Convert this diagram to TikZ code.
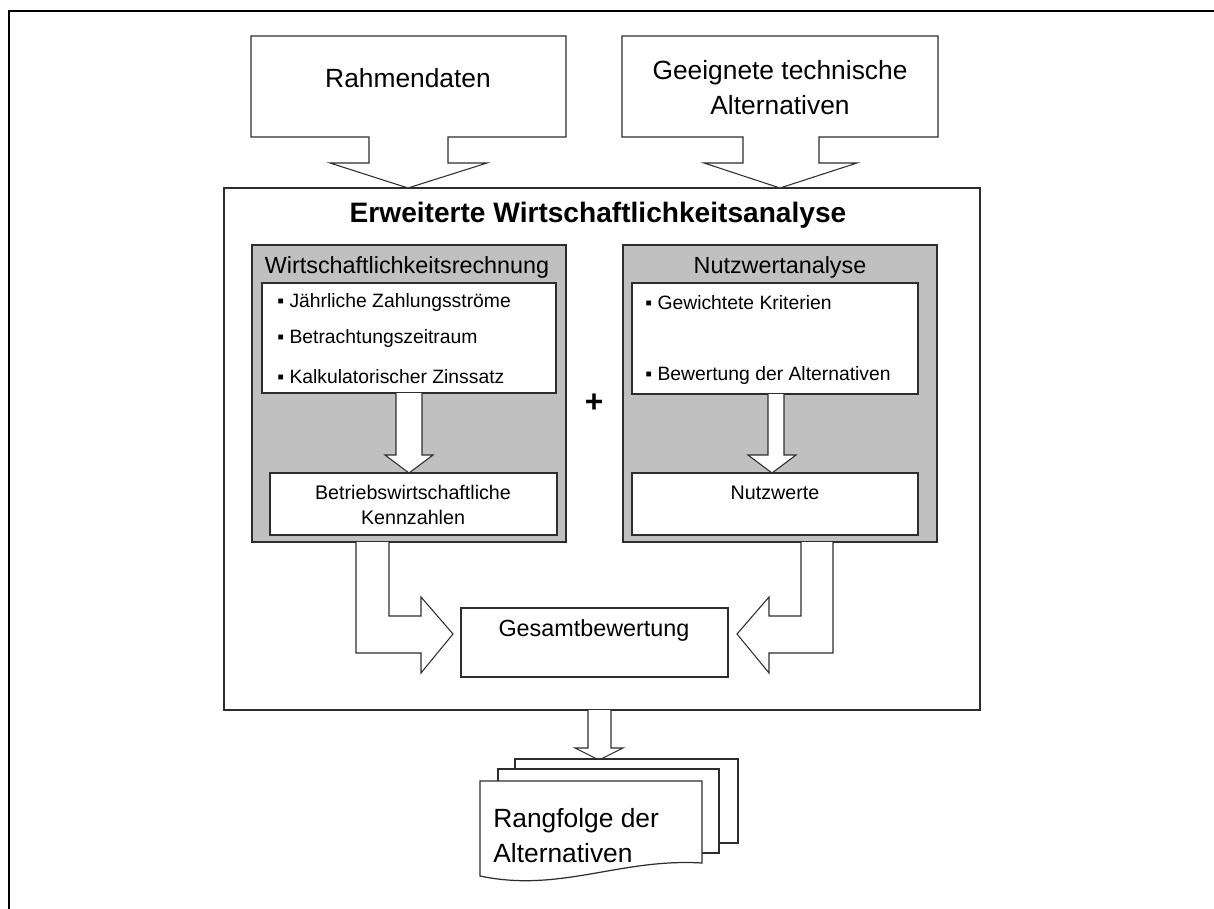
\documentclass[tikz,border=0pt]{standalone}
\usepackage{fontspec}
\setmainfont{Liberation Sans}
\definecolor{panelgray}{RGB}{192,192,192}
\definecolor{linegray}{RGB}{45,45,45}

\begin{document}
\begin{tikzpicture}[x=0.02cm, y=-0.02cm,
  box/.style={draw=linegray, line width=0.7pt, fill=white},
  panel/.style={draw=linegray, line width=0.9pt, fill=panelgray},
  blockarrow/.style={draw=linegray, line width=0.6pt, fill=white, line join=miter},
  bigtext/.style={font=\fontsize{15}{20}\selectfont, align=center, inner sep=0pt},
  midtext/.style={font=\fontsize{13.3}{16}\selectfont, align=center, inner sep=0pt},
  smalltext/.style={font=\fontsize{11.2}{14.2}\selectfont, align=center, inner sep=0pt},
  item/.style={font=\fontsize{11}{13}\selectfont, anchor=west, inner sep=0pt}]
  \useasboundingbox (0,0) rectangle (1214,909);
  % outer frame (cut off at right and bottom)
  \draw[line width=1.7pt] (9,909) -- (9,11) -- (1214,11);

  % main box
  \draw[box] (224,188) rectangle (980,710);
  \node[font=\fontsize{16}{18}\selectfont\bfseries, inner sep=0pt] (title) at (598,215) {Erweiterte Wirtschaftlichkeitsanalyse};

  % input callouts
  \filldraw[blockarrow] (251,36) -- (566,36) -- (566,137) -- (448,137) -- (448,163) -- (487,163)
    -- (408,188) -- (330,163) -- (369,163) -- (369,137) -- (251,137) -- cycle;
  \node[bigtext] (rahmen) at (408,78) {Rahmendaten};
  \filldraw[blockarrow] (622,36) -- (938,36) -- (938,137) -- (819,137) -- (819,163) -- (857,163)
    -- (780,188) -- (704,163) -- (743,163) -- (743,137) -- (622,137) -- cycle;
  \node[bigtext] (alternativen) at (780,88) {Geeignete technische\\Alternativen};

  % left panel
  \draw[panel] (252,245) rectangle (566,542);
  \node[midtext] (wirtschaft) at (407,267) {Wirtschaftlichkeitsrechnung};
  \draw[box] (262,283) rectangle (556,393);
  \node[item] (zahlung) at (277,303) {▪ Jährliche Zahlungsströme};
  \node[item] (zeitraum) at (277,339) {▪ Betrachtungszeitraum};
  \node[item] (zins) at (277,377) {▪ Kalkulatorischer Zinssatz};
  \filldraw[blockarrow] (396,393) -- (396,455) -- (385,455) -- (409,473) -- (433,455) -- (422,455) -- (422,393);
  \draw[box] (270,473) rectangle (557,535);
  \node[smalltext] (kennzahlen) at (413,505) {Betriebswirtschaftliche\\Kennzahlen};

  % right panel
  \draw[panel] (623,245) rectangle (937,542);
  \node[midtext] (nutzwert) at (780,267) {Nutzwertanalyse};
  \draw[box] (632,283) rectangle (918,394);
  \node[item] (kriterien) at (645,303) {▪ Gewichtete Kriterien};
  \node[item] (bewertung) at (645,376) {▪ Bewertung der Alternativen};
  \filldraw[blockarrow] (768,394) -- (768,455) -- (748,455) -- (772,473) -- (796,455) -- (784,455) -- (784,394);
  \draw[box] (632,473) rectangle (918,535);
  \node[smalltext] (nutzwerte) at (775,493) {Nutzwerte};

  \node[font=\fontsize{18}{18}\selectfont\bfseries, inner sep=0pt] (plus) at (594,403) {+};

  % overall rating
  \filldraw[blockarrow] (356,542) -- (356,653) -- (421,653) -- (421,673) -- (453,634) -- (421,597)
    -- (421,616) -- (389,616) -- (389,542);
  \filldraw[blockarrow] (833,542) -- (833,653) -- (769,653) -- (769,673) -- (737,634) -- (769,597)
    -- (769,616) -- (801,616) -- (801,542);
  \draw[box] (461,608) rectangle (728,677);
  \node[midtext] (gesamt) at (594,630) {Gesamtbewertung};

  % result documents
  \filldraw[blockarrow] (588,710) -- (588,748) -- (575,748) -- (599,760) -- (623,748) -- (611,748) -- (611,710);
  \draw[box] (515,759) rectangle (738,843);
  \draw[box] (498,769) rectangle (719,853);
  \draw[box] (480,781) -- (702,781) -- (702,863)
    .. controls (620,858) and (560,893) .. (480,876) -- cycle;
  \node[bigtext, anchor=west, align=left] (rangfolge) at (493,836) {Rangfolge der\\Alternativen};
\end{tikzpicture}
\end{document}
